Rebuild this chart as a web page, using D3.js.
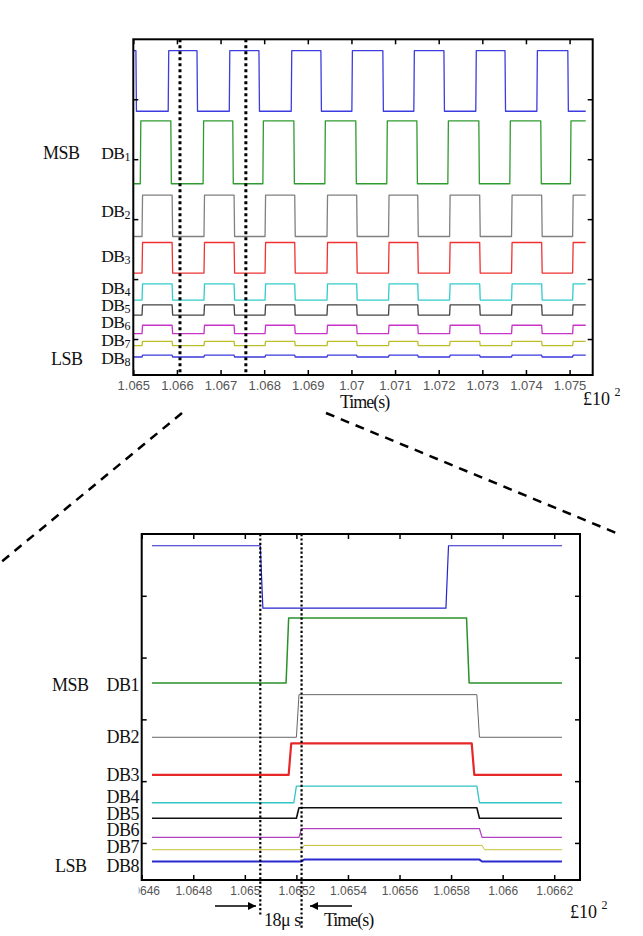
<!DOCTYPE html>
<html><head><meta charset="utf-8">
<script src="https://cdn.jsdelivr.net/npm/d3@7"></script>
<style>body{margin:0;background:#fff} svg{display:block}</style>
</head><body>
<svg id="c" width="643" height="936"></svg>
<script>
// ---------------- DATA ----------------
const signalNames = ["CLK","DB1","DB2","DB3","DB4","DB5","DB6","DB7","DB8"];
const lowLevels   = [3.80, 2.59, 1.71, 1.10, 0.65, 0.40, 0.09, -0.11, -0.30];
const highLevels  = [4.81, 3.64, 2.40, 1.61, 0.92, 0.57, 0.23, -0.04, -0.27];
const startsHigh  = [true, false, false, false, false, false, false, false, false];

const clkEdgesOverview = [1.06506,1.0658,1.06646,1.0672,1.06788,1.06862,1.0693,1.07001,1.07072,1.07143,1.07212,1.07285,1.07352,1.07425,1.07496];
const db1EdgesOverview = [1.06516,1.06586,1.0666,1.06728,1.06797,1.06868,1.06939,1.0701,1.07081,1.0715,1.07221,1.07292,1.07363,1.07434,1.07502];
const dbEdgesOverview  = [1.0652,1.06589,1.06662,1.06731,1.06802,1.0687,1.06944,1.07012,1.07085,1.07152,1.07225,1.07294,1.07367,1.07436,1.07507];
const overviewRange = [1.065, 1.07537];
const overviewDomain = [1.065, 1.07553];
const overviewTicks = [1.065,1.066,1.067,1.068,1.069,1.07,1.071,1.072,1.073,1.074,1.075];
const overviewTickLabels = ["1.065","1.066","1.067","1.068","1.069","1.07","1.071","1.072","1.073","1.074","1.075"];
const overviewMarkers = [1.06607, 1.06758];

const zoomEdges = [
  [1.06506, 1.06578],
  [1.06516, 1.06586],
  [1.0652, 1.0659],
  [1.06517, 1.06588],
  [1.06519, 1.0659],
  [1.0652, 1.0659],
  [1.06521, 1.06591],
  [1.06522, 1.06592],
  [1.06522, 1.06591]
];
const zoomRange = [1.06464, 1.06623];
const zoomDomain = [1.0646, 1.0663];
const zoomTicks = [1.0646,1.0648,1.065,1.0652,1.0654,1.0656,1.0658,1.066,1.0662];
const zoomTickLabels = ["1.0646","1.0648","1.065","1.0652","1.0654","1.0656","1.0658","1.066","1.0662"];
const zoomMarkers = [1.06506, 1.06522];

const yTicks = [0,1,2,3,4];
const yDomain = [-0.6, 5.0];

// ---------------- STYLE / LAYOUT ----------------
const overviewColors = ["#3c3ce0","#2f9a2f","#808080","#f03232","#33cccc","#444444","#c833c8","#bebe28","#3a3ae0"];
const overviewWidths = [1.3,1.3,1.3,1.3,1.3,1.3,1.3,1.3,1.3];
const zoomColors = ["#2424d0","#2a922a","#666666","#e82828","#33c4c4","#111111","#b040c0","#c8c030","#2a2ad0"];
const zoomWidths = [1.2,1.5,1.0,2.2,1.3,1.6,1.2,1.0,2.0];
const serif = "'Liberation Serif','Times New Roman',serif";
const sans = "'Liberation Sans',Arial,sans-serif";

const svg = d3.select("#c");
svg.append("rect").attr("width",643).attr("height",936).attr("fill","#fff");

const defs = svg.append("defs");
defs.append("marker").attr("id","ah").attr("viewBox","0 0 10 10").attr("refX",10).attr("refY",5)
  .attr("markerWidth",10).attr("markerHeight",8).attr("markerUnits","userSpaceOnUse").attr("orient","auto")
  .append("path").attr("d","M0,0L10,5L0,10Z").attr("fill","#000");

function buildSeries(edges, range, isHigh, lo, hi, ramp){
  const pts = [];
  let cur = isHigh;
  pts.push([range[0], cur ? hi : lo]);
  edges.forEach(t => {
    pts.push([t, cur ? hi : lo]);
    cur = !cur;
    pts.push([t + ramp, cur ? hi : lo]);
  });
  pts.push([range[1], cur ? hi : lo]);
  return pts;
}

function panel(cfg){
  const x = d3.scaleLinear().domain(cfg.domain).range([cfg.left, cfg.right]);
  const y = d3.scaleLinear().domain(yDomain).range([cfg.bottom, cfg.top]);
  const g = svg.append("g");
  const line = d3.line().x(d => x(d[0])).y(d => y(d[1]));

  signalNames.forEach((name, i) => {
    const pts = buildSeries(cfg.edges[i], cfg.range, startsHigh[i], lowLevels[i], highLevels[i], cfg.ramp);
    g.append("path").attr("d", line(pts)).attr("fill","none")
      .attr("stroke", cfg.colors[i]).attr("stroke-width", cfg.widths[i]).attr("stroke-linejoin","round");
  });

  const axB = g.append("g").attr("transform",`translate(0,${cfg.bottom})`)
    .call(d3.axisBottom(x).tickValues(cfg.ticks).tickFormat((d,i)=>cfg.tickLabels[i]).tickSizeInner(-5).tickSizeOuter(0).tickPadding(cfg.tickPad));
  axB.selectAll("text").attr("font-family",sans).attr("font-size",cfg.tickFont).attr("fill","#555");
  if (cfg.clipFirst){
    defs.append("clipPath").attr("id","clipFirst").append("rect")
      .attr("x", cfg.left - 3).attr("y",-5).attr("width",200).attr("height",40);
    axB.selectAll(".tick").filter((d,i)=>i===0).select("text").remove();
    axB.append("text").attr("x",x(cfg.ticks[0])).attr("y",cfg.tickPad).attr("dy","0.71em").attr("text-anchor","middle")
      .attr("font-family",sans).attr("font-size",cfg.tickFont).attr("fill","#555")
      .attr("clip-path","url(#clipFirst)").text(cfg.tickLabels[0]);
  }
  g.append("g").attr("transform",`translate(0,${cfg.top})`)
    .call(d3.axisTop(x).tickValues(cfg.ticks).tickFormat("").tickSizeInner(-5).tickSizeOuter(0));
  g.append("g").attr("transform",`translate(${cfg.left},0)`)
    .call(d3.axisLeft(y).tickValues(yTicks).tickFormat("").tickSizeInner(-5).tickSizeOuter(0));
  g.append("g").attr("transform",`translate(${cfg.right},0)`)
    .call(d3.axisRight(y).tickValues(yTicks).tickFormat("").tickSizeInner(-5).tickSizeOuter(0));
  g.selectAll(".domain").remove();
  g.selectAll(".tick line").attr("stroke","#000").attr("stroke-width",1.5);
  g.append("rect").attr("x",cfg.left).attr("y",cfg.top).attr("width",cfg.right-cfg.left).attr("height",cfg.bottom-cfg.top)
    .attr("fill","none").attr("stroke","#000").attr("stroke-width",2);

  cfg.markers.forEach((m,i) => {
    g.append("line").attr("x1",x(m)).attr("x2",x(m)).attr("y1",cfg.top).attr("y2",cfg.markerEnds[i])
      .attr("stroke","#000").attr("stroke-width",cfg.dotW).attr("stroke-dasharray",cfg.dotDash);
  });

  const lab = g.append("g").attr("font-family",serif).attr("fill","#111");
  signalNames.forEach((name,i) => {
    if (i===0) return;
    const t = lab.append("text").attr("x",cfg.labelX).attr("y",cfg.labelYs[i-1]).attr("text-anchor","end")
      .attr("font-size",cfg.labelFont).attr("letter-spacing",-0.5);
    if (cfg.subscript){
      t.append("tspan").text("DB");
      t.append("tspan").attr("font-size",12).attr("dy",2).text(name.slice(2));
    } else t.text(name);
  });
  lab.append("text").attr("x",cfg.msbX).attr("y",cfg.labelYs[0]).attr("font-size",18).attr("letter-spacing",-0.5).text("MSB");
  lab.append("text").attr("x",cfg.lsbX).attr("y",cfg.labelYs[7]+cfg.lsbDy).attr("font-size",18).attr("letter-spacing",-0.5).text("LSB");

  lab.append("text").attr("x",cfg.timeX).attr("y",cfg.timeY).attr("font-size",18).attr("letter-spacing",-1).text("Time(s)");
  const e = lab.append("text").attr("x",cfg.expX).attr("y",cfg.expY).attr("font-size",18);
  e.append("tspan").text("£10 ");
  e.append("tspan").attr("font-size",12).attr("dy",-9).text("2");
  return {x,y,g};
}

const overviewPanel = panel({
  domain: overviewDomain, range: overviewRange, left:133.3, right:592.7, top:39.3, bottom:375,
  edges: [clkEdgesOverview, db1EdgesOverview, dbEdgesOverview, dbEdgesOverview, dbEdgesOverview, dbEdgesOverview, dbEdgesOverview, dbEdgesOverview, dbEdgesOverview],
  ramp: 0.000012, colors: overviewColors, widths: overviewWidths,
  ticks: overviewTicks, tickLabels: overviewTickLabels, tickPad: 6, tickFont: 13, clipFirst:false,
  markers: overviewMarkers, markerEnds:[373,373], dotW:3, dotDash:"3,3",
  labelX:130, labelYs:[159,217,262,294,311,328,346,364], subscript:true, labelFont:17.5,
  msbX:43, lsbX:51, lsbDy:1,
  timeX:340, timeY:408, expX:583, expY:405
});

const zoomPanel = panel({
  domain: zoomDomain, range: zoomRange, left:141.7, right:580, top:534, bottom:880,
  edges: zoomEdges, ramp: 0.00001, colors: zoomColors, widths: zoomWidths,
  ticks: zoomTicks, tickLabels: zoomTickLabels, tickPad: 6.5, tickFont: 12, clipFirst:true,
  markers: zoomMarkers, markerEnds:[916,928], dotW:2.2, dotDash:"2.2,2.2",
  labelX:139, labelYs:[691,743,781,803,820,836,853,872], subscript:false, labelFont:18,
  msbX:52, lsbX:55, lsbDy:0,
  timeX:324, timeY:926, expX:570, expY:918
});

svg.append("line").attr("x1",182).attr("y1",413).attr("x2",0).attr("y2",563)
  .attr("stroke","#000").attr("stroke-width",2.5).attr("stroke-dasharray","9,7");
svg.append("line").attr("x1",326).attr("y1",413).attr("x2",621).attr("y2",535)
  .attr("stroke","#000").attr("stroke-width",2.5).attr("stroke-dasharray","9,7");

svg.append("line").attr("x1",215).attr("y1",906).attr("x2",256).attr("y2",906)
  .attr("stroke","#000").attr("stroke-width",1.5).attr("marker-end","url(#ah)");
svg.append("line").attr("x1",352).attr("y1",906).attr("x2",310).attr("y2",906)
  .attr("stroke","#000").attr("stroke-width",1.5).attr("marker-end","url(#ah)");
svg.append("text").attr("x",264).attr("y",926).attr("font-family",serif).attr("font-size",18)
  .attr("fill","#111").attr("letter-spacing",-0.5).text("18μ s");
</script>
</body></html>
